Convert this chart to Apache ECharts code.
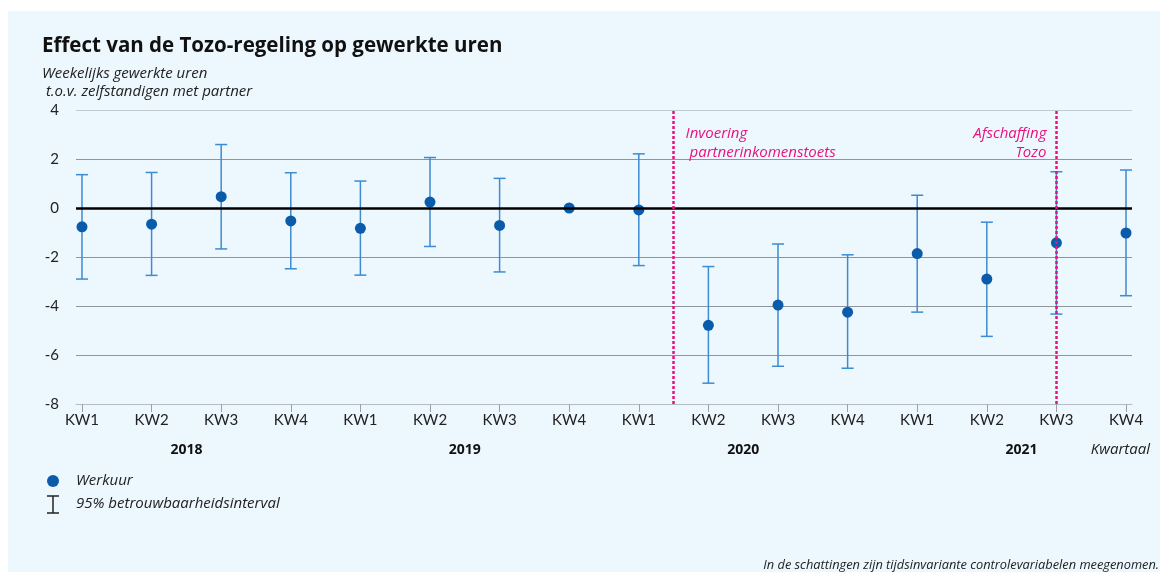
<!DOCTYPE html>
<html>
<head>
<meta charset="utf-8">
<script src="https://cdn.jsdelivr.net/npm/echarts@6/dist/echarts.min.js"></script>
<style>html,body{margin:0;padding:0;background:#fff}#c{width:1166px;height:572px}</style>
</head>
<body>
<div id="c"></div>
<script>
const quarterLabels = ['KW1','KW2','KW3','KW4','KW1','KW2','KW3','KW4','KW1','KW2','KW3','KW4','KW1','KW2','KW3','KW4'];
const years = ['2018','2019','2020','2021'];
const werkuur = [-0.77,-0.66,0.46,-0.53,-0.83,0.24,-0.71,0,-0.08,-4.79,-3.96,-4.25,-1.86,-2.90,-1.42,-1.02];
const lower = [-2.90,-2.75,-1.67,-2.48,-2.74,-1.57,-2.61,null,-2.35,-7.15,-6.46,-6.54,-4.25,-5.24,-4.33,-3.58];
const upper = [1.36,1.45,2.59,1.44,1.10,2.06,1.21,null,2.21,-2.39,-1.47,-1.91,0.52,-0.58,1.48,1.55];
const yTicks = [-8,-6,-4,-2,0,2,4];
const events = [
  {x: 8.5, text: 'Invoering\n partnerinkomenstoets', side: 'right'},
  {x: 14, text: 'Afschaffing\nTozo', side: 'left'}
];

const AXF = 'Lato, "Noto Sans", sans-serif';
const FONT = '"Open Sans", "Noto Sans", sans-serif';
const DOT = '#0a5cab';
const BAR = '#3d8bd1';
const PINK = '#e8127e';

const quarterIdx = quarterLabels.map((_, i) => i);
const yearPos = years.map((_, i) => i * 4 + 1.5);

const chart = echarts.init(document.getElementById('c'), null, {renderer: 'canvas'});

const errData = werkuur.map((v, i) => [i, lower[i], upper[i]]).filter(d => d[1] !== null);

chart.setOption({
  backgroundColor: '#ffffff',
  animation: false,
  textStyle: {fontFamily: FONT},
  graphic: [
    {type: 'rect', z: -10, shape: {x: 8, y: 11, width: 1152, height: 561}, style: {fill: '#edf7fe'}},
    {type: 'text', left: 42, top: 36, style: {text: 'Effect van de Tozo-regeling op gewerkte uren', font: 'bold 20.5px ' + FONT, fill: '#111'}},
    {type: 'text', left: 42, top: 65, style: {text: 'Weekelijks gewerkte uren\n t.o.v. zelfstandigen met partner', font: 'italic 15px ' + FONT, fill: '#222', lineHeight: 18}},
    {type: 'text', right: 16, top: 442, style: {text: 'Kwartaal', font: 'italic 15px ' + FONT, fill: '#222'}},
    {type: 'circle', shape: {cx: 53, cy: 481, r: 6}, style: {fill: DOT}},
    {type: 'text', left: 76, top: 473, style: {text: 'Werkuur', font: 'italic 15px ' + FONT, fill: '#222'}},
    {type: 'line', shape: {x1: 53, y1: 496, x2: 53, y2: 513}, style: {stroke: '#222', lineWidth: 1.5}},
    {type: 'line', shape: {x1: 47, y1: 496, x2: 59, y2: 496}, style: {stroke: '#222', lineWidth: 1.5}},
    {type: 'line', shape: {x1: 47, y1: 513, x2: 59, y2: 513}, style: {stroke: '#222', lineWidth: 1.5}},
    {type: 'text', left: 76, top: 496, style: {text: '95% betrouwbaarheidsinterval', font: 'italic 15px ' + FONT, fill: '#222'}},
    {type: 'text', right: 7, top: 559, style: {text: 'In de schattingen zijn tijdsinvariante controlevariabelen meegenomen.', font: 'italic 12.8px ' + FONT, fill: '#222'}}
  ],
  grid: {left: 76, right: 34, top: 110, bottom: 168, containLabel: false},
  xAxis: [
    {
      type: 'value', min: -0.086, max: 15.086,
      axisLine: {show: true, onZero: false, lineStyle: {color: '#b5bdc4', width: 1}},
      axisTick: {show: true, customValues: quarterIdx, length: 8, lineStyle: {color: '#9aa1a8'}},
      axisLabel: {show: true, customValues: quarterIdx, margin: 9, fontSize: 15, color: '#222', fontFamily: AXF,
        formatter: v => quarterLabels[Math.round(v)]},
      splitLine: {show: false}
    },
    {
      type: 'value', min: -0.086, max: 15.086, position: 'bottom', offset: 38,
      axisLine: {show: false}, axisTick: {show: false}, splitLine: {show: false},
      axisLabel: {show: true, customValues: yearPos, margin: 1, fontSize: 14, fontWeight: 'bold', color: '#111', fontFamily: FONT,
        formatter: v => years[Math.round((v - 1.5) / 4)]}
    }
  ],
  yAxis: {
    type: 'value', min: -8, max: 4, interval: 2,
    axisLine: {show: false}, axisTick: {show: false},
    axisLabel: {margin: 17, fontSize: 15, color: '#222', fontFamily: AXF},
    splitLine: {show: true, lineStyle: {color: ['#b5bdc4','#8e959c','#8e959c','#8e959c','#8e959c','#8e959c','#c3cbd2'], width: 1}}
  },
  series: [
    {
      type: 'custom', name: '95% betrouwbaarheidsinterval', z: 2,
      data: errData,
      renderItem: function (params, api) {
        const x = api.value(0), lo = api.value(1), hi = api.value(2);
        const p1 = api.coord([x, hi]), p2 = api.coord([x, lo]);
        const w = 6;
        const st = {stroke: BAR, lineWidth: 1.5};
        return {type: 'group', children: [
          {type: 'line', shape: {x1: p1[0], y1: p1[1], x2: p2[0], y2: p2[1]}, style: st},
          {type: 'line', shape: {x1: p1[0] - w, y1: p1[1], x2: p1[0] + w, y2: p1[1]}, style: st},
          {type: 'line', shape: {x1: p2[0] - w, y1: p2[1], x2: p2[0] + w, y2: p2[1]}, style: st}
        ]};
      }
    },
    {
      type: 'scatter', name: 'Werkuur', z: 3,
      data: werkuur.map((v, i) => [i, v]),
      symbolSize: 11,
      itemStyle: {color: DOT, opacity: 1},
      markLine: {
        silent: true, symbol: 'none', label: {show: false},
        lineStyle: {color: '#000', width: 2.5, type: 'solid'},
        data: [{yAxis: 0}]
      }
    },
    {
      type: 'line', name: 'events', z: 4, data: [],
      markLine: {
        silent: true, symbol: 'none', label: {show: false},
        lineStyle: {color: PINK, width: 2.5, type: [3, 2]},
        data: events.map(e => ({xAxis: e.x}))
      },
      markPoint: {
        silent: true, symbol: 'circle', symbolSize: 0,
        data: events.map(e => ({
          coord: [e.x, 2.65],
          label: {
            show: true, position: e.side, distance: e.side === 'right' ? 12 : 10,
            formatter: e.text, align: e.side === 'right' ? 'left' : 'right',
            fontSize: 15, fontStyle: 'italic', color: PINK, lineHeight: 19, fontFamily: FONT
          }
        }))
      }
    }
  ]
});
</script>
</body>
</html>
